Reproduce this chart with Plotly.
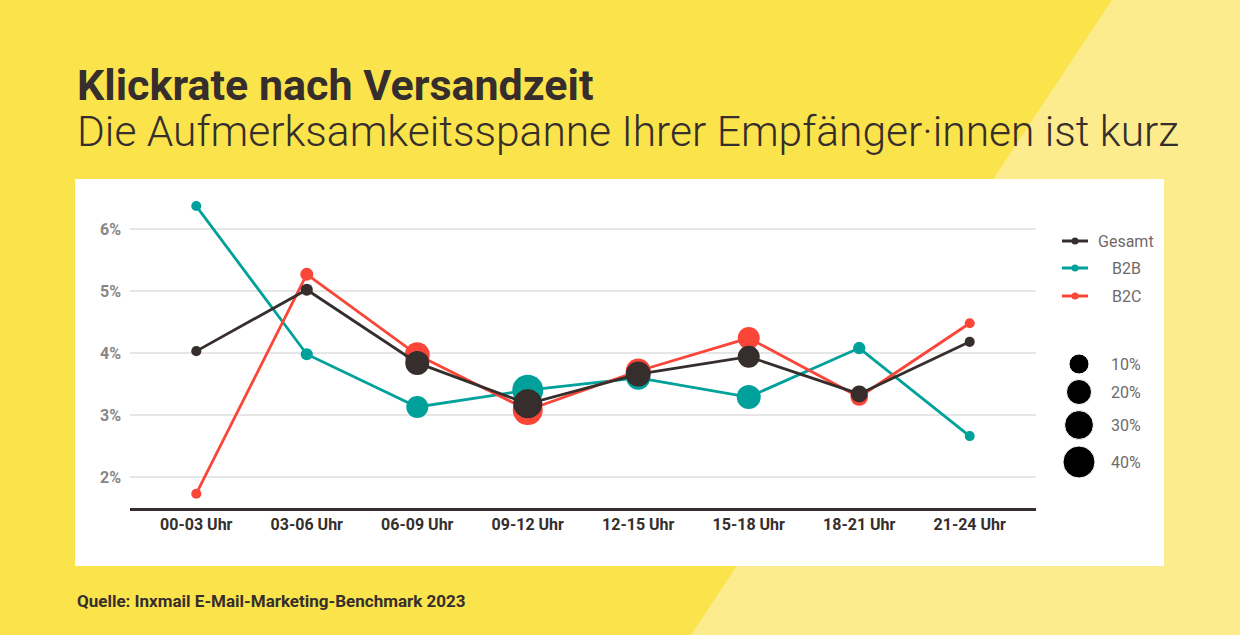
import numpy as np
import plotly.graph_objects as go

# ---------------- data ----------------
slots = ["00-03 Uhr", "03-06 Uhr", "06-09 Uhr", "09-12 Uhr", "12-15 Uhr", "15-18 Uhr", "18-21 Uhr", "21-24 Uhr"]
gesamt = [4.03, 5.02, 3.84, 3.18, 3.66, 3.94, 3.34, 4.18]
b2b = [6.37, 3.98, 3.13, 3.40, 3.60, 3.29, 4.08, 2.66]
b2c = [1.73, 5.27, 3.97, 3.08, 3.71, 4.24, 3.29, 4.48]
# share of sends per slot (%), shown as bubble size
share_gesamt = [0.3, 1.2, 17.7, 30.5, 20.0, 13.6, 5.6, 0.3]
share_b2b = [0.3, 1.2, 13.6, 36.6, 17.7, 17.7, 1.3, 0.3]
share_b2c = [0.3, 1.7, 20.0, 33.5, 20.0, 13.6, 6.5, 0.3]
size_legend = [10, 20, 30, 40]
size_legend_labels = ["10%", "20%", "30%", "40%"]
y_ticks = [2, 3, 4, 5, 6]
y_tick_labels = ["2%", "3%", "4%", "5%", "6%"]

title = "Klickrate nach Versandzeit"
subtitle = "Die Aufmerksamkeitsspanne Ihrer Empfänger·innen ist kurz"
source = "Quelle: Inxmail E-Mail-Marketing-Benchmark 2023"

# ---------------- style ----------------
W, H = 1240, 635
YELLOW = "#FBE44B"
LIGHT = "#FDEC8D"
DARK = "#352E2C"
TEAL = "#00A19A"
RED = "#FA4639"
GRID = "#E6E6E6"
TICKGREY = "#8A8685"
LEGGREY = "#6F6A69"
FONT = "Roboto"


def px(share):
    return 8 + 3.8 * np.sqrt(np.array(share, dtype=float))


def fx(x):
    return x / W


def fy(y):
    return 1 - y / H


fig = go.Figure()

series = [("B2B", b2b, share_b2b, TEAL), ("B2C", b2c, share_b2c, RED), ("Gesamt", gesamt, share_gesamt, DARK)]
for name, vals, share, col in series:
    fig.add_trace(go.Scatter(
        x=slots, y=vals, mode="lines+markers", name=name,
        line=dict(color=col, width=2.8),
        marker=dict(color=col, size=px(share), opacity=1, line=dict(width=0)),
        cliponaxis=False, showlegend=False, xaxis="x", yaxis="y",
    ))

# ---- manual legend (second axis in pixel coordinates) ----
legend_items = [("Gesamt", DARK, 241), ("B2B", TEAL, 268), ("B2C", RED, 296)]
for name, col, yy in legend_items:
    fig.add_trace(go.Scatter(
        x=[1062, 1088], y=[yy, yy], mode="lines", line=dict(color=col, width=3),
        showlegend=False, hoverinfo="skip", xaxis="x2", yaxis="y2"))
    fig.add_trace(go.Scatter(
        x=[1075], y=[yy], mode="markers", marker=dict(color=col, size=7, opacity=1),
        showlegend=False, hoverinfo="skip", xaxis="x2", yaxis="y2"))
    fig.add_annotation(x=1126, y=yy, xref="x2", yref="y2", text=name, showarrow=False,
                       font=dict(family=FONT, size=16, color=LEGGREY), xanchor="center", yanchor="middle")

size_y = [364, 392, 425, 462]
fig.add_trace(go.Scatter(
    x=[1079] * len(size_legend), y=size_y, mode="markers",
    marker=dict(color="black", size=px(size_legend), opacity=1),
    showlegend=False, hoverinfo="skip", xaxis="x2", yaxis="y2"))
for lab, yy in zip(size_legend_labels, size_y):
    fig.add_annotation(x=1126, y=yy, xref="x2", yref="y2", text=lab, showarrow=False,
                       font=dict(family=FONT, size=16, color=LEGGREY), xanchor="center", yanchor="middle")

shapes = [
    dict(type="path", xref="paper", yref="paper",
         path=f"M {fx(1112)},{fy(0)} L 1,{fy(0)} L 1,0 L {fx(691)},0 Z",
         fillcolor=LIGHT, line=dict(width=0), layer="below"),
    dict(type="rect", xref="paper", yref="paper", x0=fx(75), x1=fx(1164), y0=fy(566), y1=fy(179),
         fillcolor="white", line=dict(width=0), layer="below"),
]

heading = (f"<span style='font-size:43px;font-weight:700'>{title}</span><br>"
           f"<span style='font-size:42.5px'>{subtitle}</span>")

annotations = [
    dict(x=fx(75), y=fy(108), xref="paper", yref="paper", text=heading, showarrow=False,
         xanchor="left", yanchor="middle", align="left",
         font=dict(family=FONT, size=35.5, color=DARK, weight=300)),
    dict(x=fx(75), y=fy(601), xref="paper", yref="paper", text=f"<b>{source}</b>", showarrow=False,
         xanchor="left", yanchor="middle", font=dict(family=FONT, size=17, color=DARK)),
]

fig.update_layout(
    width=W, height=H, margin=dict(l=0, r=0, t=0, b=0),
    paper_bgcolor=YELLOW, plot_bgcolor="rgba(0,0,0,0)",
    shapes=shapes, annotations=fig.layout.annotations + tuple(annotations),
    xaxis=dict(domain=[fx(130), fx(1036)], range=[-0.6, 7.6], showgrid=False, zeroline=False,
               showline=True, linecolor=DARK, linewidth=3, ticks="", ticklabelstandoff=0,
               tickfont=dict(family=FONT, size=16, color=DARK, weight="bold"), fixedrange=True),
    yaxis=dict(domain=[fy(508), fy(198)], range=[1.5, 6.5], tickmode="array",
               tickvals=y_ticks, ticktext=y_tick_labels,
               showgrid=True, gridcolor=GRID, gridwidth=1.5, zeroline=False, showline=False,
               ticks="", ticklabelstandoff=8,
               tickfont=dict(family=FONT, size=16, color=TICKGREY, weight="bold")),
    xaxis2=dict(domain=[fx(1040), fx(1170)], range=[1040, 1170], visible=False, anchor="y2"),
    yaxis2=dict(domain=[0, 1], range=[H, 0], visible=False, anchor="x2"),
    showlegend=False,
)

fig.write_html("out.html", config={"displayModeBar": False},
               post_script="document.body.style.margin='0';document.body.style.overflow='hidden';")
